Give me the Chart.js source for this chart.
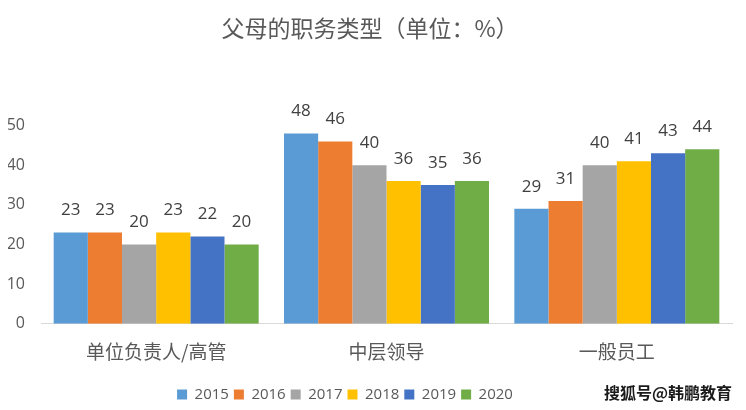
<!DOCTYPE html>
<html>
<head>
<meta charset="utf-8">
<script src="https://cdn.jsdelivr.net/npm/chart.js@4"></script>
<style>
  html, body { margin: 0; padding: 0; background: #fff; }
  #wrap { width: 746px; height: 410px; }
</style>
</head>
<body>
<div id="wrap"><canvas id="jobChart"></canvas></div>
<script>
const categories = ["单位负责人/高管", "中层领导", "一般员工"];
const years = ["2015", "2016", "2017", "2018", "2019", "2020"];
const values2015 = [23, 48, 29];
const values2016 = [23, 46, 31];
const values2017 = [20, 40, 40];
const values2018 = [23, 36, 41];
const values2019 = [22, 35, 43];
const values2020 = [20, 36, 44];
const yTicks = [0, 10, 20, 30, 40, 50];

const colors = ["#5B9BD5", "#ED7D31", "#A5A5A5", "#FFC000", "#4472C4", "#70AD47"];
const series = [values2015, values2016, values2017, values2018, values2019, values2020];
const FONT = "'Open Sans', 'Noto Sans CJK SC', sans-serif";

// value labels above each bar
const valueLabels = {
  id: "valueLabels",
  afterDatasetsDraw(chart) {
    const ctx = chart.ctx;
    ctx.save();
    ctx.font = "17px " + FONT;
    ctx.fillStyle = "#404040";
    ctx.textAlign = "center";
    ctx.textBaseline = "middle";
    chart.data.datasets.forEach((ds, i) => {
      chart.getDatasetMeta(i).data.forEach((bar, j) => {
        ctx.fillText(ds.data[j], bar.x, bar.y - 22);
      });
    });
    ctx.restore();
  }
};

// legend sits a bit left of centre in the original
const legendShift = {
  id: "legendShift",
  afterLayout(chart) {
    chart.legend.left -= 25;
    chart.legend.right -= 25;
    chart.legend.top += 2;
    chart.legend.bottom += 2;
  }
};

const watermark = {
  id: "watermark",
  afterDraw(chart) {
    const ctx = chart.ctx;
    ctx.save();
    ctx.font = "bold 16px 'Noto Sans CJK SC', sans-serif";
    ctx.fillStyle = "#1a1a1a";
    ctx.textAlign = "right";
    ctx.textBaseline = "middle";
    ctx.fillText("搜狐号@韩鹏教育", 732, 393);
    ctx.restore();
  }
};

new Chart(document.getElementById("jobChart"), {
  type: "bar",
  data: {
    labels: categories,
    datasets: years.map((y, i) => ({
      label: y,
      data: series[i],
      backgroundColor: colors[i],
      categoryPercentage: 0.89,
      barPercentage: 1.0
    }))
  },
  options: {
    responsive: true,
    maintainAspectRatio: false,
    animation: false,
    layout: { padding: { left: 8, right: 14, bottom: 0 } },
    plugins: {
      title: {
        display: true,
        text: "父母的职务类型（单位：%）",
        color: "#595959",
        font: { family: "'Noto Sans CJK SC', sans-serif", size: 23, weight: "normal" },
        padding: { top: 14, bottom: 84 }
      },
      legend: {
        position: "bottom",
        labels: {
          boxWidth: 10,
          boxHeight: 10,
          padding: 5,
          color: "#595959",
          font: { family: FONT, size: 15 }
        }
      },
      tooltip: { enabled: false }
    },
    scales: {
      x: {
        grid: { display: false },
        border: { display: true, color: "#d9d9d9", width: 1 },
        ticks: {
          color: "#595959",
          padding: 9,
          font: { family: "'Noto Sans CJK SC', sans-serif", size: 19 }
        },
        afterFit(scale) {
          scale.height += 7.5;
        }
      },
      y: {
        min: 0,
        max: 50,
        grid: { display: false },
        border: { display: false },
        afterBuildTicks(axis) {
          axis.ticks = yTicks.map(v => ({ value: v }));
        },
        afterFit(scale) {
          scale.width = 33;
        },
        ticks: {
          color: "#595959",
          padding: 8,
          font: { family: FONT, size: 16 }
        }
      }
    }
  },
  plugins: [valueLabels, legendShift, watermark]
});
</script>
</body>
</html>
